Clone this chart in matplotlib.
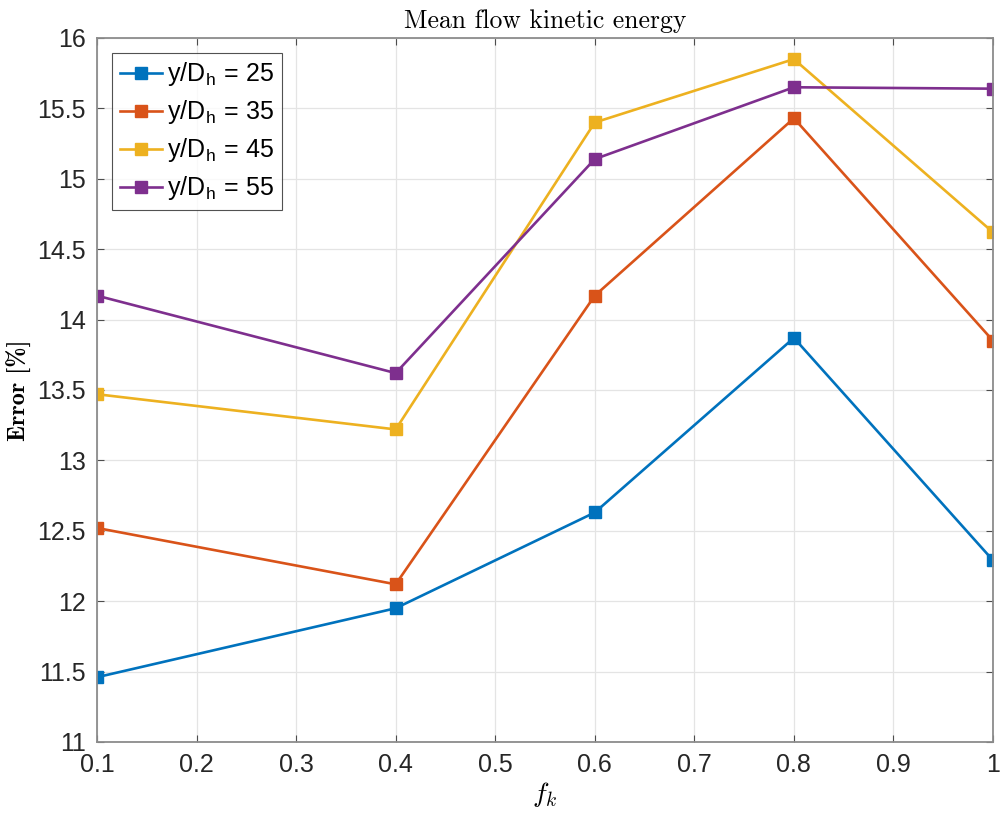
import matplotlib
matplotlib.use("Agg")
import matplotlib.pyplot as plt
from matplotlib import font_manager

# f_k values and error [%] for each y/D_h station
fk = [0.1, 0.4, 0.6, 0.8, 1.0]
err_25 = [11.46, 11.95, 12.63, 13.87, 12.29]
err_35 = [12.52, 12.12, 14.17, 15.43, 13.85]
err_45 = [13.47, 13.22, 15.40, 15.85, 14.62]
err_55 = [14.17, 13.62, 15.14, 15.65, 15.64]
labels = ["25", "35", "45", "55"]
colors = ["#0072BD", "#D95319", "#EDB120", "#7E2F8E"]

xticks = [0.1, 0.2, 0.3, 0.4, 0.5, 0.6, 0.7, 0.8, 0.9, 1.0]
xticklabels = ["0.1", "0.2", "0.3", "0.4", "0.5", "0.6", "0.7", "0.8", "0.9", "1"]
yticks = [11, 11.5, 12, 12.5, 13, 13.5, 14, 14.5, 15, 15.5, 16]
yticklabels = ["11", "11.5", "12", "12.5", "13", "13.5", "14", "14.5", "15", "15.5", "16"]


def pick_font(names):
    available = {f.name for f in font_manager.fontManager.ttflist}
    for n in names:
        if n in available:
            return n
    return "DejaVu Sans"


def main():
    tick_font = pick_font(["Liberation Sans Narrow", "Liberation Sans"])
    leg_font = pick_font(["Liberation Sans", "DejaVu Sans"])
    plt.rcParams["mathtext.fontset"] = "cm"

    fig = plt.figure(figsize=(10, 8.17), dpi=100)
    ax = fig.add_axes([0.097, 0.0918, 0.896, 0.8617])

    series = [err_25, err_35, err_45, err_55]
    for vals, lab, col in zip(series, labels, colors):
        ax.plot(fk, vals, color=col, lw=1.9, marker="s", ms=8.5,
                label=r"y/D$_\mathregular{h}$ = " + lab)

    ax.set_xlim(0.1, 1.0)
    ax.set_ylim(11, 16)
    ax.set_xticks(xticks)
    ax.set_xticklabels(xticklabels)
    ax.set_yticks(yticks)
    ax.set_yticklabels(yticklabels)
    ax.grid(True, color="#e4e4e4", lw=0.9)
    ax.set_axisbelow(True)
    ax.tick_params(direction="in", top=True, right=True, length=5,
                   color="#4d4d4d", labelsize=18, pad=8, labelcolor="#262626")
    for lbl in ax.get_xticklabels() + ax.get_yticklabels():
        lbl.set_fontfamily(tick_font)
    for sp in ax.spines.values():
        sp.set_color("#8c8c8c")
        sp.set_linewidth(1.3)

    ax.set_title("Mean flow kinetic energy", family="cmr10", fontsize=18.5, pad=7)
    ax.set_ylabel("Error [%]", family="cmb10", fontsize=17.5, labelpad=4)
    ax.set_xlabel(r"$f_k$", fontsize=20, labelpad=2)

    leg = ax.legend(loc="upper left", prop={"family": leg_font, "size": 18},
                    frameon=True, fancybox=False, edgecolor="#262626",
                    borderaxespad=0.6, handlelength=1.7, handletextpad=0.2,
                    labelspacing=0.4, borderpad=0.3)
    leg.get_frame().set_linewidth(0.8)

    fig.savefig("out.png", dpi=100)


if __name__ == "__main__":
    main()
